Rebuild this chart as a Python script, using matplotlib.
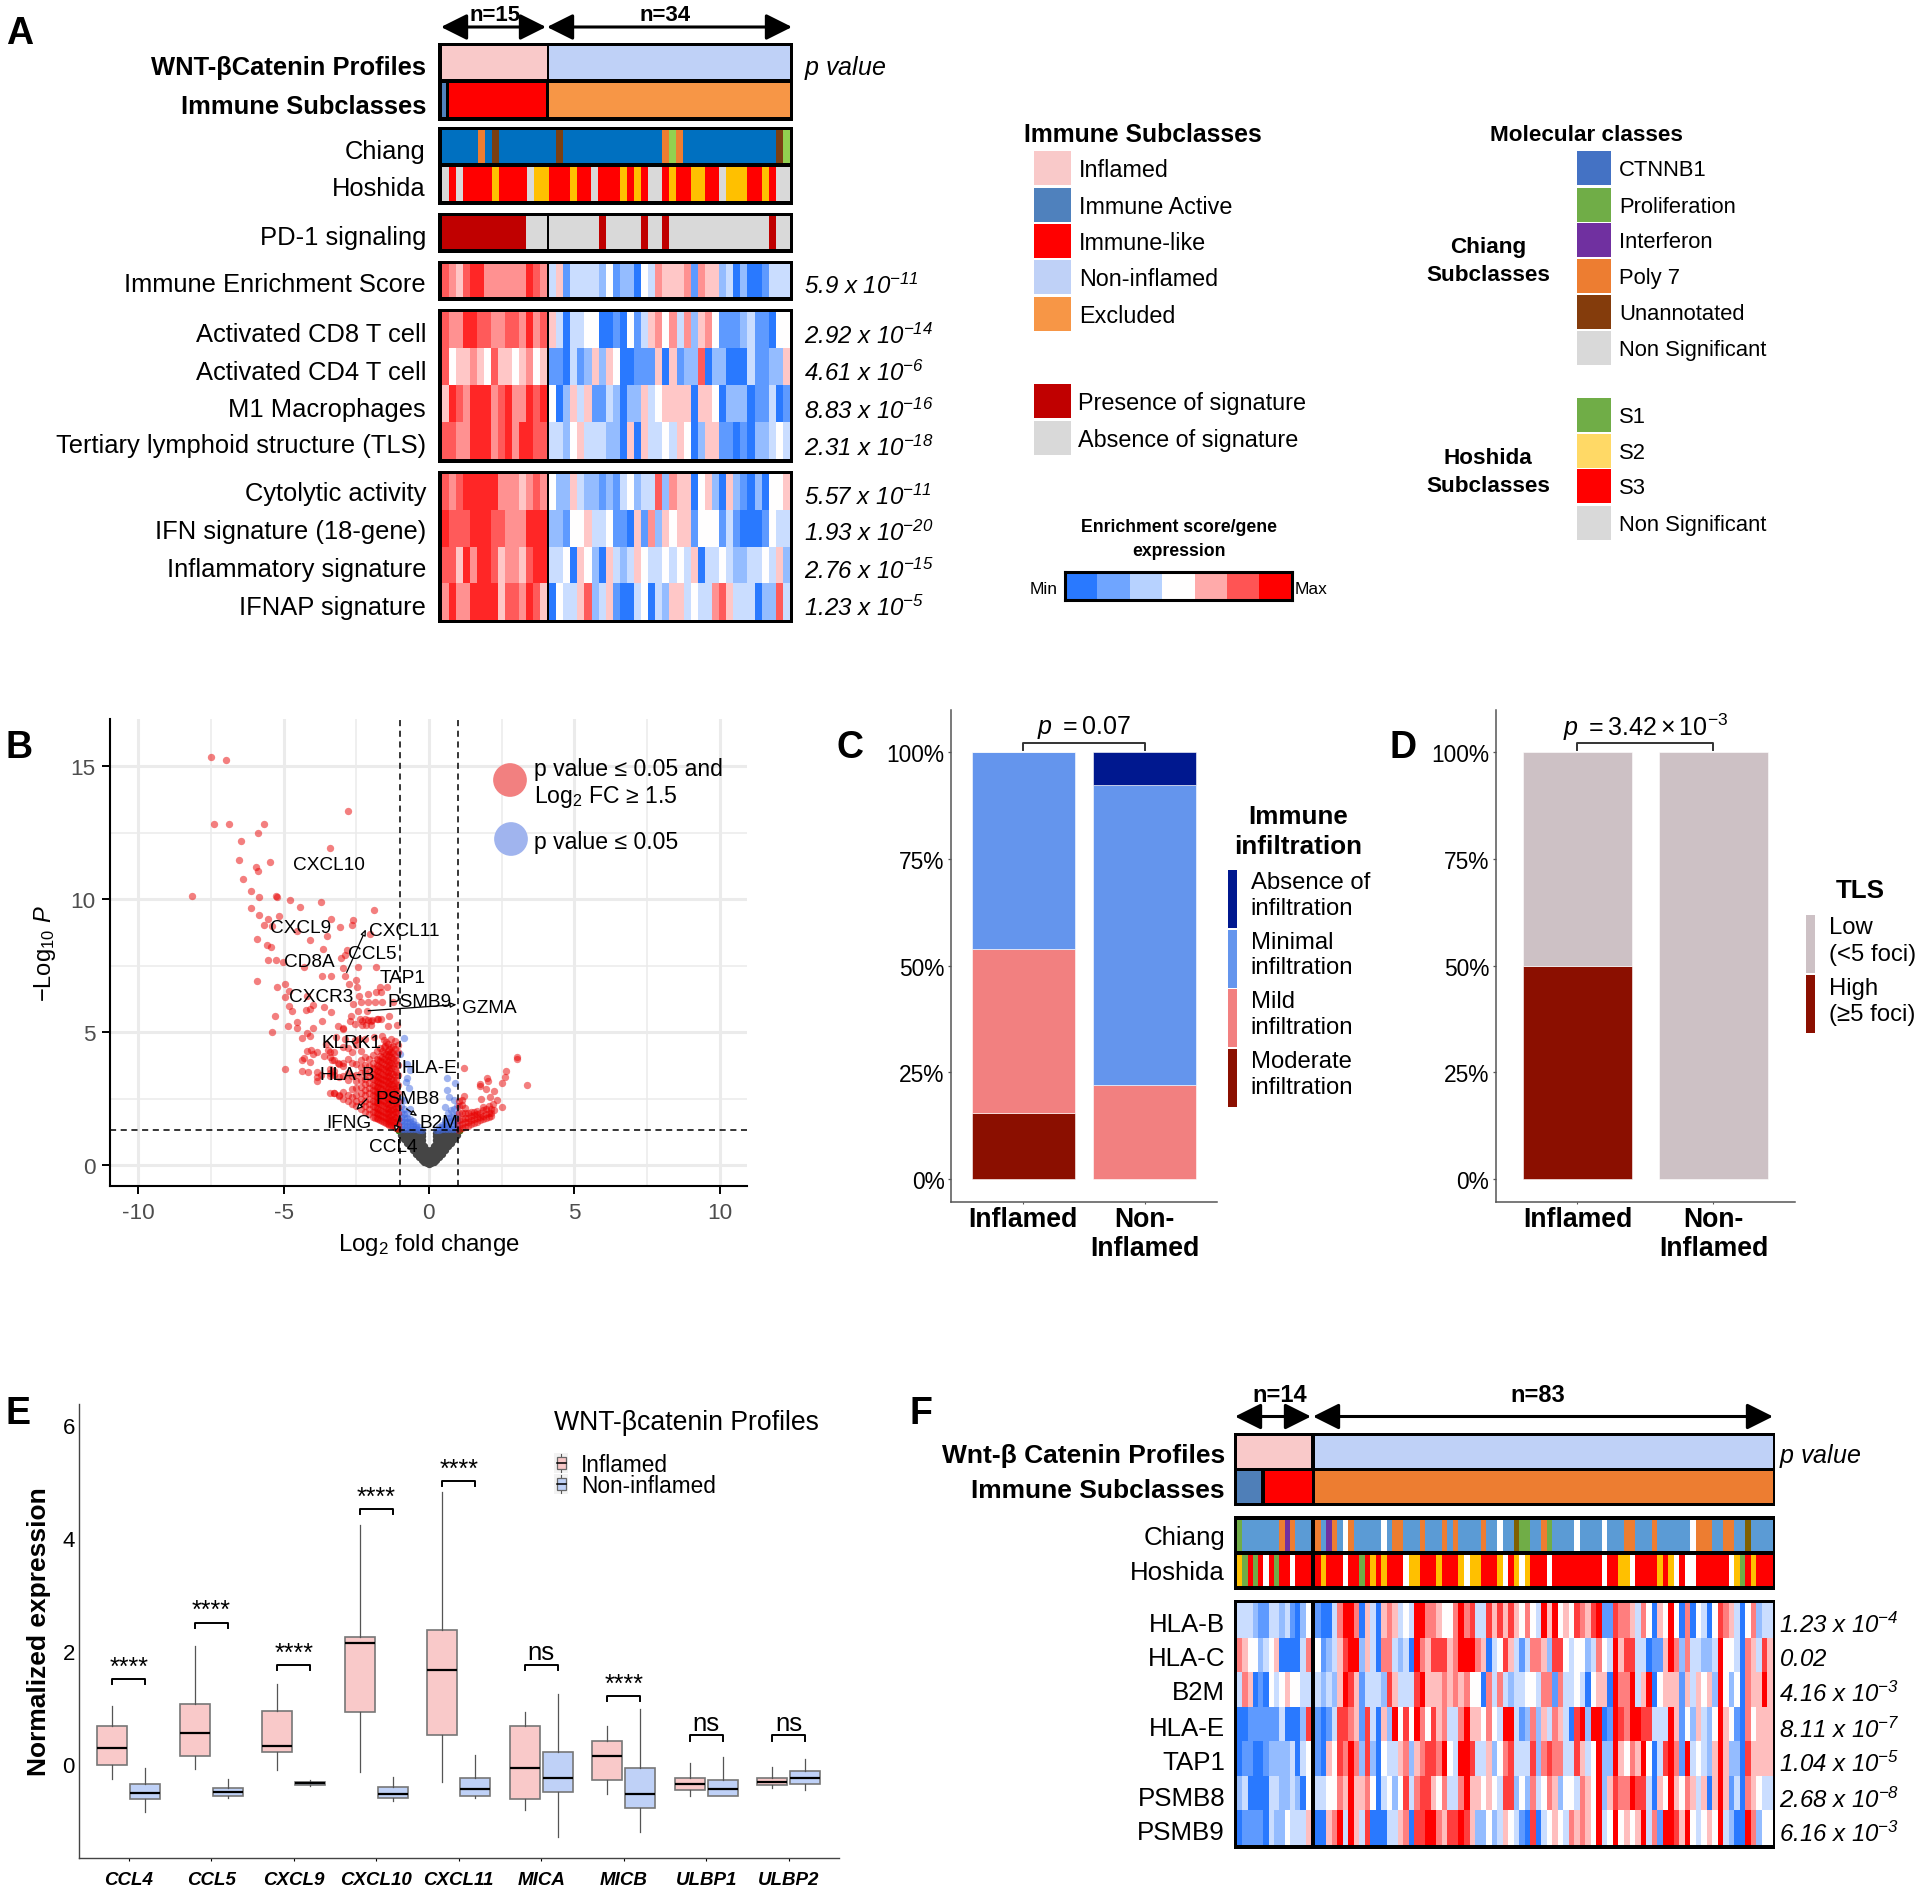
import numpy as np
import matplotlib
matplotlib.use("Agg")
import matplotlib.pyplot as plt
from matplotlib.colors import LinearSegmentedColormap, to_rgb
from matplotlib.patches import Rectangle

plt.rcParams.update({
    "font.family": ["Liberation Sans", "DejaVu Sans"],
    "mathtext.fontset": "custom",
    "mathtext.rm": "Liberation Sans:italic",
    "mathtext.it": "Liberation Sans:italic",
    "mathtext.sf": "Liberation Sans",
    "mathtext.bf": "Liberation Sans:bold",
    "mathtext.default": "rm",
    "axes.unicode_minus": False,
})
W, H = 1920, 1890

# ---------------------------------------------------------------- data: panel A
A_WNT = ["P" * 15, "L" * 34]
A_IMMUNE = ["A", "I" * 14, "E" * 34]
A_CHIANG = "BBBBBOBWBBBBBBBBWBBBBBBBBBBBBBBOGOBBBBBBBBBBBBBWG"
A_HOSHIDA = "DRD RRRR Y RRRR D YY RRR Y RR D RRR Y R Y R DD R Y RR YY RR D YYY RR Y R DD".replace(" ", "")
A_PD1 = ["SSSSSSSSSSSSDDD", "DDDDDDDSDDDDDSDDSDDDDDDDDDDDDDDSDD"]
A_IES = ["765788666666876", "3513333241 2204365556 1655230200 1333"]
A_ROWS1 = [
    ("766887766776867", "5303344001 0413564636 2564111231 1044"),
    ("745565475545645", "1103125254 0011150512 2702200031 1225"),
    ("587688867866878", "4025351132 0225345555 0554022201 1301"),
    ("776688867868877", "3324533322 0505334354 0255110102 2343"),
]
A_ROWS2 = [
    ("767888886665676", "4225322121 3423372655 0452052102 0445"),
    ("877788877666888", "2214453341 1051625455 1444131000 1433"),
    ("775868875665788", "3340542053 2354334343 5033432233 4352"),
    ("686688885776875", "0433572351 0034032553 4336753330 2273"),
]
A_PVALS = ["5.9\\ x\\ 10^{-11}", "2.92\\ x\\ 10^{-14}", "4.61\\ x\\ 10^{-6}", "8.83\\ x\\ 10^{-16}", "2.31\\ x\\ 10^{-18}",
           "5.57\\ x\\ 10^{-11}", "1.93\\ x\\ 10^{-20}", "2.76\\ x\\ 10^{-15}", "1.23\\ x\\ 10^{-5}"]
A_LABELS = ["Chiang", "Hoshida", "PD-1 signaling", "Immune Enrichment Score", "Activated CD8 T cell", "Activated CD4 T cell",
            "M1 Macrophages", "Tertiary lymphoid structure (TLS)", "Cytolytic activity", "IFN signature (18-gene)",
            "Inflammatory signature", "IFNAP signature"]

# ---------------------------------------------------------------- data: panel F
F_CHIANG = "G BBBBBBB O P O BBB O B P O B W O BBBBB W B OO BBB O BBB O B O BBBB O BB W BB N GG BB O G BBBB W BBBB W BBB OO BBB O BBBBBB W OOO BB OO BB N BBBB".replace(" ", "")
F_HOSHIDA = "Y G R G R W R G RR W RRR R Y RRR W RR G R Y R Y RRR W YY RRR Y RRR Y W YY RRR Y W R Y W Y RRR W RRRRRRRRR W RR YY W RRRR Y R Y W R WW RRRRRR W Y G R Y RRR".replace(" ", "")
F_ROWS = [
    ("33321133231024",
     "1003688605 3056534388 6654468673 37575",
     "7546438584 5476578117 6653640548 4060430476 53046233"),
    ("65442345000036",
     "4123578825 3066323086 5777568886 50347",
     "5313665277 4344236438 5773301158 6263322384 43065375"),
    ("36501043454433",
     "3232587513 3327533378 5556565644 06363",
     "2334436616 3343045508 6683580455 5153545284 24065585"),
    ("00111111300027",
     "1013776517 3052847486 4756336855 46438",
     "8312625365 3078288018 7688773338 5142532485 41064555"),
    ("01100122223034",
     "1054768627 2043356256 7768438873 35246",
     "7333726766 3375348228 5465840378 6183432585 22075555"),
    ("23000033223204",
     "3344658556 4034247367 7546336855 45437",
     "7242634652 4436548257 6687730548 5465350585 13065433"),
    ("01111032243335",
     "0056838537 0003356077 8865778752 24235",
     "4310703454 3656548348 4545836188 7584345483 20086244"),
]
F_LABELS = ["HLA-B", "HLA-C", "B2M", "HLA-E", "TAP1", "PSMB8", "PSMB9"]
F_PVALS = ["1.23\\ x\\ 10^{-4}", "0.02", "4.16\\ x\\ 10^{-3}", "8.11\\ x\\ 10^{-7}", "1.04\\ x\\ 10^{-5}", "2.68\\ x\\ 10^{-8}", "6.16\\ x\\ 10^{-3}"]

# ---------------------------------------------------------------- data: panel B
sparse_x = [-7.48,-6.97,-2.80,-7.40,-6.88,-5.68,-5.87,-6.46,-3.42,-6.54,-5.47,-5.95,-5.87,-6.39,-8.14,-6.12,-5.85,-5.26,-5.21,-4.78,-3.72,-4.42,-6.11,-1.90,-5.83,-5.16,-5.55,-3.37,-2.60,-5.68,-2.63,-3.05,-5.39,-4.55,-2.02,-3.50,-5.91,-4.09,-5.58,-5.42,-3.65,-2.81,-2.89,-3.04,-5.52,-5.26,-5.03,-4.29,-2.97,-2.45,-1.82,-2.88,-3.67,-3.36,-2.52,-5.91,-4.95,-5.24,-2.74,-2.49,-1.69,-1.43,-1.82,-1.66,-4.80,
            -2.42,-2.09,-4.94,-4.21,-2.60,-2.32,-2.09,-1.86,-1.63,-1.23,-4.83,-4.72,-4.23,-4.09,-3.98,-3.61,-3.37,-2.43,-2.14,-5.30,-2.68,-1.36,-2.37,-3.69,-4.55,-3.12,-4.86,-4.53,-5.39,-3.98,-2.95,-2.72,-2.55,-1.78,-1.11,-1.42,-4.21,-1.51,-1.23,
            -2.3,-2.2,-2.1,-2.0,-2.15,-2.3,-2.0,-1.95,-1.75,-1.65,-3.86,-3.86,-3.86,-3.7,-4.38,-4.15,-4.95,-4.38,-4.3,-4.09,-4.07,-4.0,-3.84,-3.61,-3.35,-3.12,-2.97,-4.38,-4.09,-3.46,-3.18,-2.89,-4.21,-3.55,-2.55,-2.4,-2.2,-1.9,-1.6]
sparse_y = [15.35,15.23,13.32,12.82,12.82,12.82,12.47,12.18,11.92,11.47,11.38,11.22,11.04,10.74,10.13,10.30,10.06,10.11,10.09,9.97,9.89,9.70,9.66,9.59,9.39,9.37,9.25,9.25,9.20,9.02,9.04,8.96,9.0,8.80,8.70,8.60,8.48,8.46,8.28,8.21,8.12,8.10,7.89,7.79,7.72,7.72,7.64,7.43,7.42,7.43,7.43,7.09,7.11,7.12,6.97,6.90,6.82,6.68,6.80,6.68,6.68,6.68,6.52,6.52,6.55,
            6.37,6.43,6.30,6.37,6.05,6.12,6.12,6.12,6.14,6.12,5.99,5.80,5.83,5.86,6.02,5.95,5.76,5.78,5.80,5.61,5.61,5.61,5.49,5.41,5.39,5.24,5.21,5.14,5.01,5.15,5.11,5.43,5.30,5.49,5.26,5.21,4.96,4.49,4.46,
            5.4,5.5,5.45,5.4,5.25,5.25,5.25,5.45,5.5,5.5,3.15,3.3,3.5,3.4,3.52,3.48,3.6,3.95,4.02,3.86,4.32,4.19,4.23,4.08,3.96,3.83,3.73,4.77,4.86,4.34,4.8,4.74,4.3,4.55,4.7,4.75,4.75,4.8,4.85]
right_x = [3.02,3.02,3.38,2.65,2.61,2.53,1.98,2.02,1.75,1.75,1.96,2.24,1.22,1.22,1.78,2.1,2.33,2.21,2.52]
right_y = [4.05,3.97,3.0,3.55,3.3,3.07,3.26,3.15,3.05,2.96,2.86,2.77,3.65,2.58,2.48,2.57,2.46,2.29,2.18]
dense_red = {
    -1.05: [1.36,1.5,1.72,1.95,2.18,2.42,2.7,3.0,3.4,3.75,4.25,4.5],
    -1.12: [1.38,1.55,1.78,1.98,2.15,2.32,2.55,2.78,2.95,3.2,3.5,3.95],
    -1.18: [1.42,1.6,1.8,2.0,2.2,2.4,2.62,2.85,3.1,3.35,3.6,3.85,4.1,4.35,4.65],
    -1.24: [1.45,1.62,1.74,1.93,2.12,2.33,2.52,2.74,2.96,3.18,3.44,3.72,3.98,4.22],
    -1.3: [1.5,1.68,1.87,2.05,2.25,2.45,2.65,2.85,3.05,3.25,3.45,3.65,3.85,4.05,4.25,4.45,4.75],
    -1.36: [1.52,1.66,1.8,1.98,2.16,2.36,2.56,2.76,2.96,3.16,3.36,3.56,3.76,3.96,4.16,4.38],
    -1.42: [1.55,1.72,1.92,2.1,2.3,2.5,2.7,2.9,3.1,3.3,3.5,3.7,3.9,4.1,4.3,4.55],
    -1.48: [1.58,1.76,1.95,2.14,2.34,2.54,2.76,2.95,3.14,3.35,3.55,3.74,3.95,4.18,4.62],
    -1.55: [1.6,1.8,2.0,2.2,2.4,2.6,2.8,3.0,3.2,3.4,3.6,3.8,4.0,4.2,4.45,4.7],
    -1.61: [1.66,1.85,2.04,2.24,2.44,2.64,2.84,3.04,3.24,3.44,3.64,3.86,4.06,4.3],
    -1.68: [1.7,1.88,2.08,2.28,2.48,2.68,2.88,3.08,3.28,3.48,3.68,3.9,4.1,4.4],
    -1.74: [1.72,1.92,2.12,2.32,2.52,2.72,2.92,3.12,3.32,3.52,3.74,3.96],
    -1.8: [1.75,1.95,2.15,2.35,2.55,2.75,2.95,3.15,3.35,3.55,3.75,4.0,4.3],
    -1.86: [1.78,1.98,2.18,2.38,2.58,2.78,2.98,3.18,3.38,3.6],
    -1.92: [1.82,2.0,2.2,2.42,2.62,2.82,3.02,3.22,3.42,3.65,3.85,4.15],
    -2.05: [1.9,2.1,2.3,2.5,2.7,2.9,3.1,3.3,3.5,3.72,4.0],
    -2.2: [2.0,2.2,2.42,2.62,2.82,3.05,3.25,3.48,3.75,4.05],
    -2.35: [2.1,2.3,2.5,2.72,2.95,3.2,3.45,3.7,3.95,4.3],
    -2.5: [2.2,2.42,2.65,2.9,3.15,3.4,3.8,4.5],
    -2.65: [2.3,2.55,2.85,3.35,3.85,4.25],
    -2.8: [2.4,2.62,3.2,3.45,4.0,4.4],
    -2.95: [2.5,2.75,3.35,3.85,4.45,5.15],
    -3.1: [2.6,2.65,3.3,3.8],
    -3.25: [2.7,2.72,3.4,3.55,3.95,4.25],
    -3.4: [2.72,3.35,3.45,3.6,4.05,4.25],
    1.05: [1.33,1.5,1.7,1.95,2.2,2.4],
    1.15: [1.38,1.55,1.72,1.95,2.25,2.45],
    1.25: [1.42,1.6,1.75,1.95,2.15],
    1.35: [1.48,1.62,1.78,1.95],
    1.45: [1.55,1.68,1.85,2.0],
    1.55: [1.58,1.72,1.88,2.0],
    1.65: [1.62,1.78,1.9,2.02],
    1.75: [1.68,1.8,1.95],
    1.85: [1.72,1.85,2.05,2.18],
    1.95: [1.75,1.9,2.1],
    2.05: [1.8,1.95,2.2],
    2.15: [1.85,1.95,2.1],
    2.25: [2.05],
}
dense_blue = {
    -0.95: [1.35,1.5,1.65,1.8,2.0,2.2,2.5], -0.85: [1.35,1.5,1.62,1.75,1.9,2.1,2.45], -0.75: [1.35,1.48,1.6,1.75,1.95],
    -0.65: [1.35,1.45,1.6,1.72,2.1], -0.55: [1.35,1.45,1.55,1.65], -0.45: [1.35,1.42,1.52], -0.35: [1.33,1.42], -0.25: [1.33],
    0.25: [1.33], 0.35: [1.33,1.42], 0.45: [1.35,1.42,1.52], 0.55: [1.35,1.45,1.58,1.7,2.17], 0.65: [1.35,1.48,1.6,1.75,1.95],
    0.75: [1.35,1.5,1.65,1.8,2.05], 0.85: [1.35,1.5,1.7,1.85,2.1,2.46], 0.95: [1.35,1.5,1.7,1.9,2.2],
}
blue_x = [-0.85,-1.0,-0.77,-0.65,-0.77,-0.79,-0.69,0.61,0.89,0.63,0.70]
blue_y = [4.77,4.17,3.8,3.57,3.27,3.13,2.9,3.26,3.07,2.82,2.57]
dense_grey = {
    0.0: [.05,.15,.25,.35,.45], 0.08: [.08,.2,.32,.44,.55], 0.16: [.12,.25,.4,.55,.7],
    0.25: [.2,.35,.5,.65,.8,.95,1.1,1.22], 0.35: [.3,.45,.6,.75,.9,1.05,1.2], 0.45: [.42,.55,.7,.85,1,1.12,1.24],
    0.55: [.55,.7,.85,1,1.12,1.24], 0.65: [.7,.85,1,1.12,1.24], 0.75: [.82,.95,1.08,1.22], 0.85: [.98,1.1,1.22], 0.95: [1.12,1.23],
}
green_x = [-1.08, 1.08]
green_y = [1.27, 1.27]
gene_names = ["CXCL10","CXCL9","CXCL11","CCL5","CD8A","TAP1","CXCR3","PSMB9","GZMA","KLRK1","HLA-E","HLA-B","PSMB8","IFNG","B2M","CCL4"]
gene_x = [-3.43,-4.42,-0.85,-1.95,-4.1,-0.92,-3.69,-0.33,2.08,-2.65,0.03,-2.8,-0.75,-2.75,0.36,-1.23]
gene_y = [11.30,8.94,8.82,7.94,7.66,7.04,6.35,6.14,5.94,4.59,3.68,3.40,2.50,1.61,1.59,0.71]
leader_from = [(-2.83,7.24),(-2.09,5.8),(-2.14,2.48),(-0.77,2.11),(-1.0,1.86)]
leader_to = [(-2.17,8.86),(0.95,6.03),(-2.5,2.07),(-0.4,1.84),(-1.17,1.23)]

# ---------------------------------------------------------------- data: panels C, D
groups = ["Inflamed", "Non-\nInflamed"]
c_moderate = [15.4, 0]
c_mild = [38.4, 22.1]
c_minimal = [46.2, 70.3]
c_absence = [0, 7.6]
d_high = [50, 0]
d_low = [50, 100]
pct_ticks = [0, 25, 50, 75, 100]

# ---------------------------------------------------------------- data: panel E
e_genes = ["CCL4","CCL5","CXCL9","CXCL10","CXCL11","MICA","MICB","ULBP1","ULBP2"]
inf_low = [-.26,-.08,-.11,-.13,-.31,-.81,-.52,-.56,-.42]
inf_q1 = [-.01,.15,.21,.92,.52,-.61,-.28,-.45,-.37]
inf_med = [.29,.55,.33,2.15,1.67,-.06,.15,-.35,-.31]
inf_q3 = [.67,1.06,.94,2.25,2.37,.67,.42,-.24,-.24]
inf_high = [1.03,2.09,1.43,4.24,4.83,.93,.68,.02,-.04]
non_low = [-.85,-.60,-.39,-.65,-.60,-1.28,-1.20,-.57,-.46]
non_q1 = [-.61,-.56,-.37,-.60,-.56,-.50,-.78,-.57,-.35]
non_med = [-.51,-.49,-.34,-.52,-.43,-.24,-.52,-.44,-.25]
non_q3 = [-.35,-.42,-.32,-.41,-.24,.22,-.06,-.27,-.12]
non_high = [-.07,-.26,-.27,-.23,.17,1.24,.98,.12,.10]
bracket_y = [1.51,2.51,1.76,4.52,5.02,1.76,1.21,.51,.51]
sig = ["****","****","****","****","****","ns","****","ns","ns"]

# ---------------------------------------------------------------- helpers
cmap = LinearSegmentedColormap.from_list("br", ["#2979FF", "#FFFFFF", "#FF0000"])
cmapA = LinearSegmentedColormap.from_list("bra", ["#2979FF", "#FFFFFF", "#FF2626"])
palette = {"P": "#F9C9C9", "L": "#BFD1F7", "A": "#4F81BD", "I": "#FF0000", "E": "#F79646", "B": "#0070C0", "O": "#ED7D31",
           "W": "#7B3F12", "G": "#92D050", "D": "#D9D9D9", "R": "#FF0000", "Y": "#FFC000", "S": "#C00000"}
paletteF = {"P": "#F9C9C9", "L": "#BFD1F7", "A": "#4F7FB8", "I": "#FF0000", "E": "#ED7D31", "B": "#5B9BD5", "O": "#ED7D31",
            "W": "#FFFFFF", "N": "#7F6000", "G": "#70AD47", "R": "#FF0000", "Y": "#FFC000", "D": "#D9D9D9"}
paletteF2 = dict(paletteF); paletteF2["P"] = "#7030A0"

fig = plt.figure(figsize=(W / 100, H / 100), dpi=100, facecolor="white")
bg = fig.add_axes([0, 0, 1, 1], zorder=0)
bg.set_xlim(0, W); bg.set_ylim(H, 0); bg.axis("off")
ov = fig.add_axes([0, 0, 1, 1], zorder=10)
ov.set_xlim(0, W); ov.set_ylim(H, 0); ov.axis("off"); ov.patch.set_alpha(0)


def axpx(x0, y0, x1, y1, z=2):
    return fig.add_axes([x0 / W, 1 - y1 / H, (x1 - x0) / W, (y1 - y0) / H], zorder=z)


def block(x0, y0, x1, y1):
    bg.add_patch(Rectangle((x0, y0), x1 - x0, y1 - y0, color="black", lw=0))


def cat_cells(rect, codes, pal):
    a = axpx(*rect)
    a.imshow(np.array([[to_rgb(pal[c]) for c in codes]]), aspect="auto", interpolation="nearest")
    a.axis("off")


def heat_cells(rect, rows, cm):
    a = axpx(*rect)
    a.imshow(np.array([[int(c) for c in r.replace(" ", "")] for r in rows]), aspect="auto", interpolation="nearest",
             cmap=cm, vmin=0, vmax=8)
    a.axis("off")


def T(x, y, s, ha="left", size=18.4, **kw):
    ov.text(x, y + 2.5, s, ha=ha, va="center", fontsize=size, **kw)


def dbl_arrow(x0, x1, y):
    ov.annotate("", xy=(x1, y), xytext=(x0, y),
                arrowprops=dict(arrowstyle="<|-|>,head_length=16,head_width=8", mutation_scale=1, lw=2.2,
                                color="black", shrinkA=0, shrinkB=0))


def swatch(x0, y0, x1, y1, c):
    ov.add_patch(Rectangle((x0, y0), x1 - x0, y1 - y0, color=c, lw=0))


def expand(d, mirror=False):
    xs, ys = [], []
    for k, v in d.items():
        for y in v:
            xs.append(k); ys.append(y)
            if mirror and k != 0:
                xs.append(-k); ys.append(y)
    return xs, ys


# ---------------------------------------------------------------- panel A
L0, L1, R0, R1 = 441.7, 546, 549, 789.5
block(438.2, 43.5, 792.8, 121.5)
cat_cells((L0, 47, L1, 80), A_WNT[0], palette); cat_cells((R0, 47, R1, 80), A_WNT[1], palette)
cat_cells((L0, 84, 445.7, 118), A_IMMUNE[0], palette); cat_cells((449, 84, L1, 118), A_IMMUNE[1], palette)
cat_cells((R0, 84, R1, 118), A_IMMUNE[2], palette)
block(438.2, 127.5, 792.8, 205.5)
cat_cells((L0, 131, R1, 164), A_CHIANG, palette)
cat_cells((L0, 168, R1, 202), A_HOSHIDA, palette)
block(438.2, 213.5, 792.8, 253.5)
cat_cells((L0, 217, L1, 250), A_PD1[0], palette); cat_cells((R0, 217, R1, 250), A_PD1[1], palette)
block(438.2, 261.5, 792.8, 301.5)
heat_cells((L0, 265, L1, 298), [A_IES[0]], cmapA); heat_cells((R0, 265, R1, 298), [A_IES[1]], cmapA)
block(438.2, 309.5, 792.8, 463.5)
heat_cells((L0, 313, L1, 460), [r[0] for r in A_ROWS1], cmapA); heat_cells((R0, 313, R1, 460), [r[1] for r in A_ROWS1], cmapA)
block(438.2, 471.5, 792.8, 624)
heat_cells((L0, 475, L1, 620.5), [r[0] for r in A_ROWS2], cmapA); heat_cells((R0, 475, R1, 620.5), [r[1] for r in A_ROWS2], cmapA)
dbl_arrow(441, 546, 28); dbl_arrow(547, 792, 28)
T(495, 13, "n=15", "center", 16, weight="bold"); T(665, 13, "n=34", "center", 16, weight="bold")
T(426, 66, "WNT-\u03b2Catenin Profiles", "right", 18.4, weight="bold")
T(426, 104, "Immune Subclasses", "right", 18.4, weight="bold")
for y, s in zip([149, 186, 235, 283, 332, 370, 407, 444, 492, 530, 568, 605], A_LABELS):
    T(426, y, s, "right")
T(804, 65, "$p\\ value$", size=18)
for y, s in zip([284, 334, 371, 409, 446, 495, 531, 569, 606], A_PVALS):
    T(804, y, "$" + s + "$", size=17.3)

T(1024, 132, "Immune Subclasses", size=17.8, weight="bold")
for y, s, c in zip([169, 206, 242, 278, 315], ["Inflamed", "Immune Active", "Immune-like", "Non-inflamed", "Excluded"],
                   ["#F9C9C9", "#4F81BD", "#FF0000", "#BFD1F7", "#F79646"]):
    swatch(1034, y - 17, 1071, y + 17, c); T(1079, y - 1, s, size=16.8)
for y, s, c in zip([402, 439], ["Presence of signature", "Absence of signature"], ["#C00000", "#D9D9D9"]):
    swatch(1034, y - 17, 1071, y + 17, c); T(1078, y - 1, s, size=16.8)
T(1179, 525, "Enrichment score/gene", "center", 12.7, weight="bold")
T(1179, 549, "expression", "center", 12.7, weight="bold")
cb = axpx(1065, 573, 1292, 601)
cb.imshow(np.array([[0, 1.33, 2.67, 4, 5.33, 6.67, 8]]), aspect="auto", interpolation="nearest", cmap=cmap, vmin=0, vmax=8)
cb.set_xticks([]); cb.set_yticks([])
for s in cb.spines.values():
    s.set_linewidth(2.2)
T(1058, 587, "Min", "right", 12.5); T(1295, 587, "Max", size=12.5)
T(1586, 133, "Molecular classes", "center", 16.2, weight="bold")
for y, s, c in zip([169, 206, 241, 277, 313, 349], ["CTNNB1", "Proliferation", "Interferon", "Poly 7", "Unannotated", "Non Significant"],
                   ["#4472C4", "#70AD47", "#7030A0", "#ED7D31", "#843C0C", "#D9D9D9"]):
    swatch(1577, y - 17, 1611, y + 17, c); T(1619, y - 1, s, size=15.8)
T(1488, 245, "Chiang", "center", 16.2, weight="bold"); T(1488, 273, "Subclasses", "center", 16.2, weight="bold")
for y, s, c in zip([416, 452, 487, 524], ["S1", "S2", "S3", "Non Significant"], ["#70AD47", "#FFD966", "#FF0000", "#D9D9D9"]):
    swatch(1577, y - 17, 1611, y + 17, c); T(1619, y - 1, s, size=15.8)
T(1488, 456, "Hoshida", "center", 16.2, weight="bold"); T(1488, 484, "Subclasses", "center", 16.2, weight="bold")

# ---------------------------------------------------------------- panel B
ax = axpx(110, 720, 747, 1187)
ax.set_xlim(-10.97, 10.94); ax.set_ylim(-0.79, 16.77)
ax.set_xticks([-10, -5, 0, 5, 10]); ax.set_yticks([0, 5, 10, 15])
ax.set_xticks([-7.5, -2.5, 2.5, 7.5], minor=True); ax.set_yticks([2.5, 7.5, 12.5], minor=True)
ax.grid(True, which="major", color="#EBEBEB", lw=2.2); ax.grid(True, which="minor", color="#EBEBEB", lw=1.1)
ax.tick_params(which="minor", length=0)
ax.tick_params(which="major", labelsize=16.2, labelcolor="#4D4D4D", length=5.5, width=1.4, pad=5)
ax.tick_params(axis="x", which="major", pad=6)
ax.set_axisbelow(True)
for s in ("top", "right"):
    ax.spines[s].set_visible(False)
for s in ("left", "bottom"):
    ax.spines[s].set_linewidth(1.5)
gx, gy = expand(dense_grey, mirror=True)
ax.scatter(gx, gy, s=28, color="#454545", lw=0, zorder=2)
ax.scatter(green_x, green_y, s=16, color="#228B22", lw=0, zorder=3)
bx, by = expand(dense_blue)
ax.scatter(list(bx) + blue_x, list(by) + blue_y, s=28, color="#4169E1", alpha=0.5, lw=0, zorder=3)
rx, ry = expand(dense_red)
ax.scatter(sparse_x + right_x + rx, sparse_y + right_y + ry, s=28, color="#E80000", alpha=0.5, lw=0, zorder=3)
ax.axvline(-1, color="black", lw=1.1, ls=(0, (4, 3)), zorder=4)
ax.axvline(1, color="black", lw=1.1, ls=(0, (4, 3)), zorder=4)
ax.axhline(1.3, color="black", lw=1.1, ls=(0, (4, 3)), zorder=4)
for n, x, y in zip(gene_names, gene_x, gene_y):
    ax.text(x, y, n, ha="center", va="center", fontsize=13.7, color="black", zorder=6)
for a, b in zip(leader_from, leader_to):
    ax.annotate("", xy=b, xytext=a, arrowprops=dict(arrowstyle="-|>,head_length=3.5,head_width=1.5", mutation_scale=1, lw=0.9,
                                                     fc="white", ec="black", shrinkA=0, shrinkB=0), zorder=6)
ax.set_xlabel("$\\mathsf{Log_2}$ fold change", fontsize=17.3, labelpad=6)
ax.set_ylabel("$\\mathsf{-Log_{10}}\\ P$", fontsize=17, labelpad=9)
ov.scatter([510, 511], [781, 840], s=590, color=["#F28080", "#A0B4EE"], lw=0)
T(534, 767, "p value \u2264 0.05 and", size=16.6); T(534, 795, "Log$\\mathsf{_2}$ FC \u2265 1.5", size=16.6)
T(534, 840, "p value \u2264 0.05", size=16.6)

# ---------------------------------------------------------------- panels C, D
def stacked(rect, xlim, width, series, colors, bracket_label, xc):
    a = axpx(*rect)
    a.set_xlim(*xlim); a.set_ylim(-5.28, 110)
    bottom = np.zeros(2)
    for v, c in zip(series, colors):
        a.bar([0, 1], v, width=width, bottom=bottom, color=c, edgecolor="#FFFFFF", lw=0.4)
        bottom += np.array(v, float)
    a.set_xticks([0, 1]); a.set_xticklabels(groups, fontsize=19.2, weight="bold", linespacing=1.14)
    a.set_yticks(pct_ticks); a.set_yticklabels([f"{p}%" for p in pct_ticks], fontsize=16.4)
    a.tick_params(axis="y", length=2.5, width=0.9, pad=2, color="#555555")
    a.tick_params(axis="x", length=1.5, width=0.8, pad=2, color="#555555")
    for s in ("top", "right"):
        a.spines[s].set_visible(False)
    for s in ("left", "bottom"):
        a.spines[s].set_linewidth(1.1); a.spines[s].set_color("#555555")
    a.plot([0, 0, 1, 1], [100.6, 102.1, 102.1, 100.6], color="#333333", lw=1.4)
    T(xc, 725, bracket_label, "center", 18)
    return a


stacked((950.7, 710.7, 1216.8, 1202.5), (-0.598, 1.596), 0.85, [c_moderate, c_mild, c_minimal, c_absence],
        ["#8B0F00", "#F28080", "#6495ED", "#00188F"], "$p\\ \\mathsf{=0.07}$", 1083.6)
stacked((1495.5, 710.7, 1795, 1202.5), (-0.602, 1.6), 0.8, [d_high, d_low],
        ["#8B0F00", "#CDC1C5"], "$p\\ \\mathsf{=3.42 \\times 10^{-3}}$", 1645.5)
T(1298, 815, "Immune", "center", 18.7, weight="bold"); T(1298, 844, "infiltration", "center", 18.7, weight="bold")
for (y0, y1), c, l1, l2, y1t, y2t in zip([(870.7, 929.3), (930.7, 988.6), (990, 1048), (1049.6, 1108)],
                                          ["#00188F", "#6495ED", "#F28080", "#8B0F00"],
                                          ["Absence of", "Minimal", "Mild", "Moderate"], ["infiltration"] * 4,
                                          [881.4, 941.4, 1001, 1060.7], [907.9, 967, 1026.8, 1086.4]):
    swatch(1227.5, y0, 1237, y1, c); T(1250.7, y1t - 1, l1, size=17.2); T(1250.7, y2t - 1, l2, size=17.2)
T(1860, 888, "TLS", "center", 18.7, weight="bold")
swatch(1805.5, 916, 1815, 974, "#CDC1C5"); swatch(1805.5, 975.7, 1815, 1034, "#8B0F00")
T(1829, 926, "Low", size=17.2); T(1829, 952, "(<5 foci)", size=17.2)
T(1829, 986, "High", size=17.2); T(1829, 1012, "(\u22655 foci)", size=17.2)

# ---------------------------------------------------------------- panel E
ax = axpx(79, 1405, 838.6, 1859)
ax.set_xlim(-0.602, 8.605); ax.set_ylim(-1.66, 6.38)
pos = np.arange(len(e_genes))


def stats(lo, q1, med, q3, hi):
    return [dict(whislo=a, q1=b, med=c, q3=d, whishi=e) for a, b, c, d, e in zip(lo, q1, med, q3, hi)]


for st, off, col in [(stats(inf_low, inf_q1, inf_med, inf_q3, inf_high), -0.2, "#F9C9C9"),
                     (stats(non_low, non_q1, non_med, non_q3, non_high), 0.2, "#BFD1F7")]:
    ax.bxp(st, positions=pos + off, widths=0.36, patch_artist=True, showcaps=False, showfliers=False, manage_ticks=False,
           boxprops=dict(facecolor=col, edgecolor="#777777", lw=1.2),
           medianprops=dict(color="black", lw=1.6),
           whiskerprops=dict(color="#555555", lw=0.9))
for p, y, s in zip(pos, bracket_y, sig):
    ax.plot([p - 0.2, p - 0.2, p + 0.2, p + 0.2], [y - 0.09, y, y, y - 0.09], color="black", lw=1.4)
    if s == "ns":
        ax.text(p, y + 0.22, s, ha="center", va="center", fontsize=18.5)
    else:
        ax.text(p, y + 0.22, s, ha="center", va="center", fontsize=18)
ax.set_xticks(pos); ax.set_xticklabels(e_genes, fontsize=13.5, weight="bold", style="italic")
ax.set_yticks([0, 2, 4, 6])
ax.tick_params(axis="y", labelsize=16, length=0, pad=3)
ax.tick_params(axis="x", length=2.5, width=0.8, pad=7)
for s in ("top", "right"):
    ax.spines[s].set_visible(False)
for s in ("left", "bottom"):
    ax.spines[s].set_linewidth(1); ax.spines[s].set_color("#444444")
ov.text(39, 1632, "Normalized expression", rotation=90, ha="center", va="center", fontsize=19, weight="bold")
T(554, 1421, "WNT-\u03b2catenin Profiles", size=19.2)
for y, c, s in zip([1464, 1485], ["#F9C9C9", "#BFD1F7"], ["Inflamed", "Non-inflamed"]):
    swatch(554, y - 10, 568, y + 10, "#F2F2F2")
    ov.plot([561, 561], [y - 9, y + 9], color="#555555", lw=0.8)
    ov.add_patch(Rectangle((556.5, y - 6), 9, 12, fc=c, ec="#666666", lw=0.9, zorder=4))
    ov.plot([556.5, 565.5], [y, y], color="black", lw=1.1, zorder=5)
    T(581, y - 1, s, size=16.3)

# ---------------------------------------------------------------- panel F
FL0, FL1, FR0, FR1 = 1237, 1310.8, 1314.5, 1772
block(1233.7, 1434, 1775.3, 1507)
cat_cells((FL0, 1437, FL1, 1469), "P" * 14, paletteF); cat_cells((FR0, 1437, FR1, 1469), "L" * 83, paletteF)
cat_cells((FL0, 1472.3, 1261, 1504), "A" * 5, paletteF); cat_cells((1264.5, 1472.3, FL1, 1504), "I" * 9, paletteF)
cat_cells((FR0, 1472.3, FR1, 1504), "E" * 83, paletteF)
block(1233.7, 1517, 1775.3, 1591)
cat_cells((FL0, 1521, FL1, 1552), F_CHIANG[:14], paletteF2); cat_cells((FR0, 1521, FR1, 1552), F_CHIANG[14:], paletteF2)
cat_cells((FL0, 1556, FL1, 1587), F_HOSHIDA[:14], paletteF); cat_cells((FR0, 1556, FR1, 1587), F_HOSHIDA[14:], paletteF)
block(1233.7, 1601, 1775.3, 1849.5)
heat_cells((FL0, 1604, FL1, 1846), [r[0] for r in F_ROWS], cmap)
heat_cells((FR0, 1604, FR1, 1846), [r[1] + " " + r[2] for r in F_ROWS], cmap)
dbl_arrow(1235, 1311, 1417.5); dbl_arrow(1313, 1773, 1417.5)
T(1280, 1393, "n=14", "center", 17, weight="bold"); T(1538, 1393, "n=83", "center", 17, weight="bold")
T(1225, 1453, "Wnt-\u03b2 Catenin Profiles", "right", 19, weight="bold")
T(1225, 1488, "Immune Subclasses", "right", 19, weight="bold")
T(1225, 1536, "Chiang", "right", 18.6); T(1225, 1571, "Hoshida", "right", 18.6)
for y, s, p in zip([1622, 1656, 1691, 1727, 1761, 1797, 1831], F_LABELS, F_PVALS):
    T(1225, y, s, "right", 18.6); T(1779, y + 1, "$" + p + "$", size=17.3)
T(1779, 1453, "$p\\ value$", size=18)

# ---------------------------------------------------------------- panel letters
for x, y, s in [(6, 31, "A"), (6, 745, "B"), (836, 745, "C"), (1390, 745, "D"), (6, 1412, "E"), (910, 1412, "F")]:
    T(x, y, s, size=27, weight="bold")

fig.savefig("out.png", dpi=100, facecolor="white")
